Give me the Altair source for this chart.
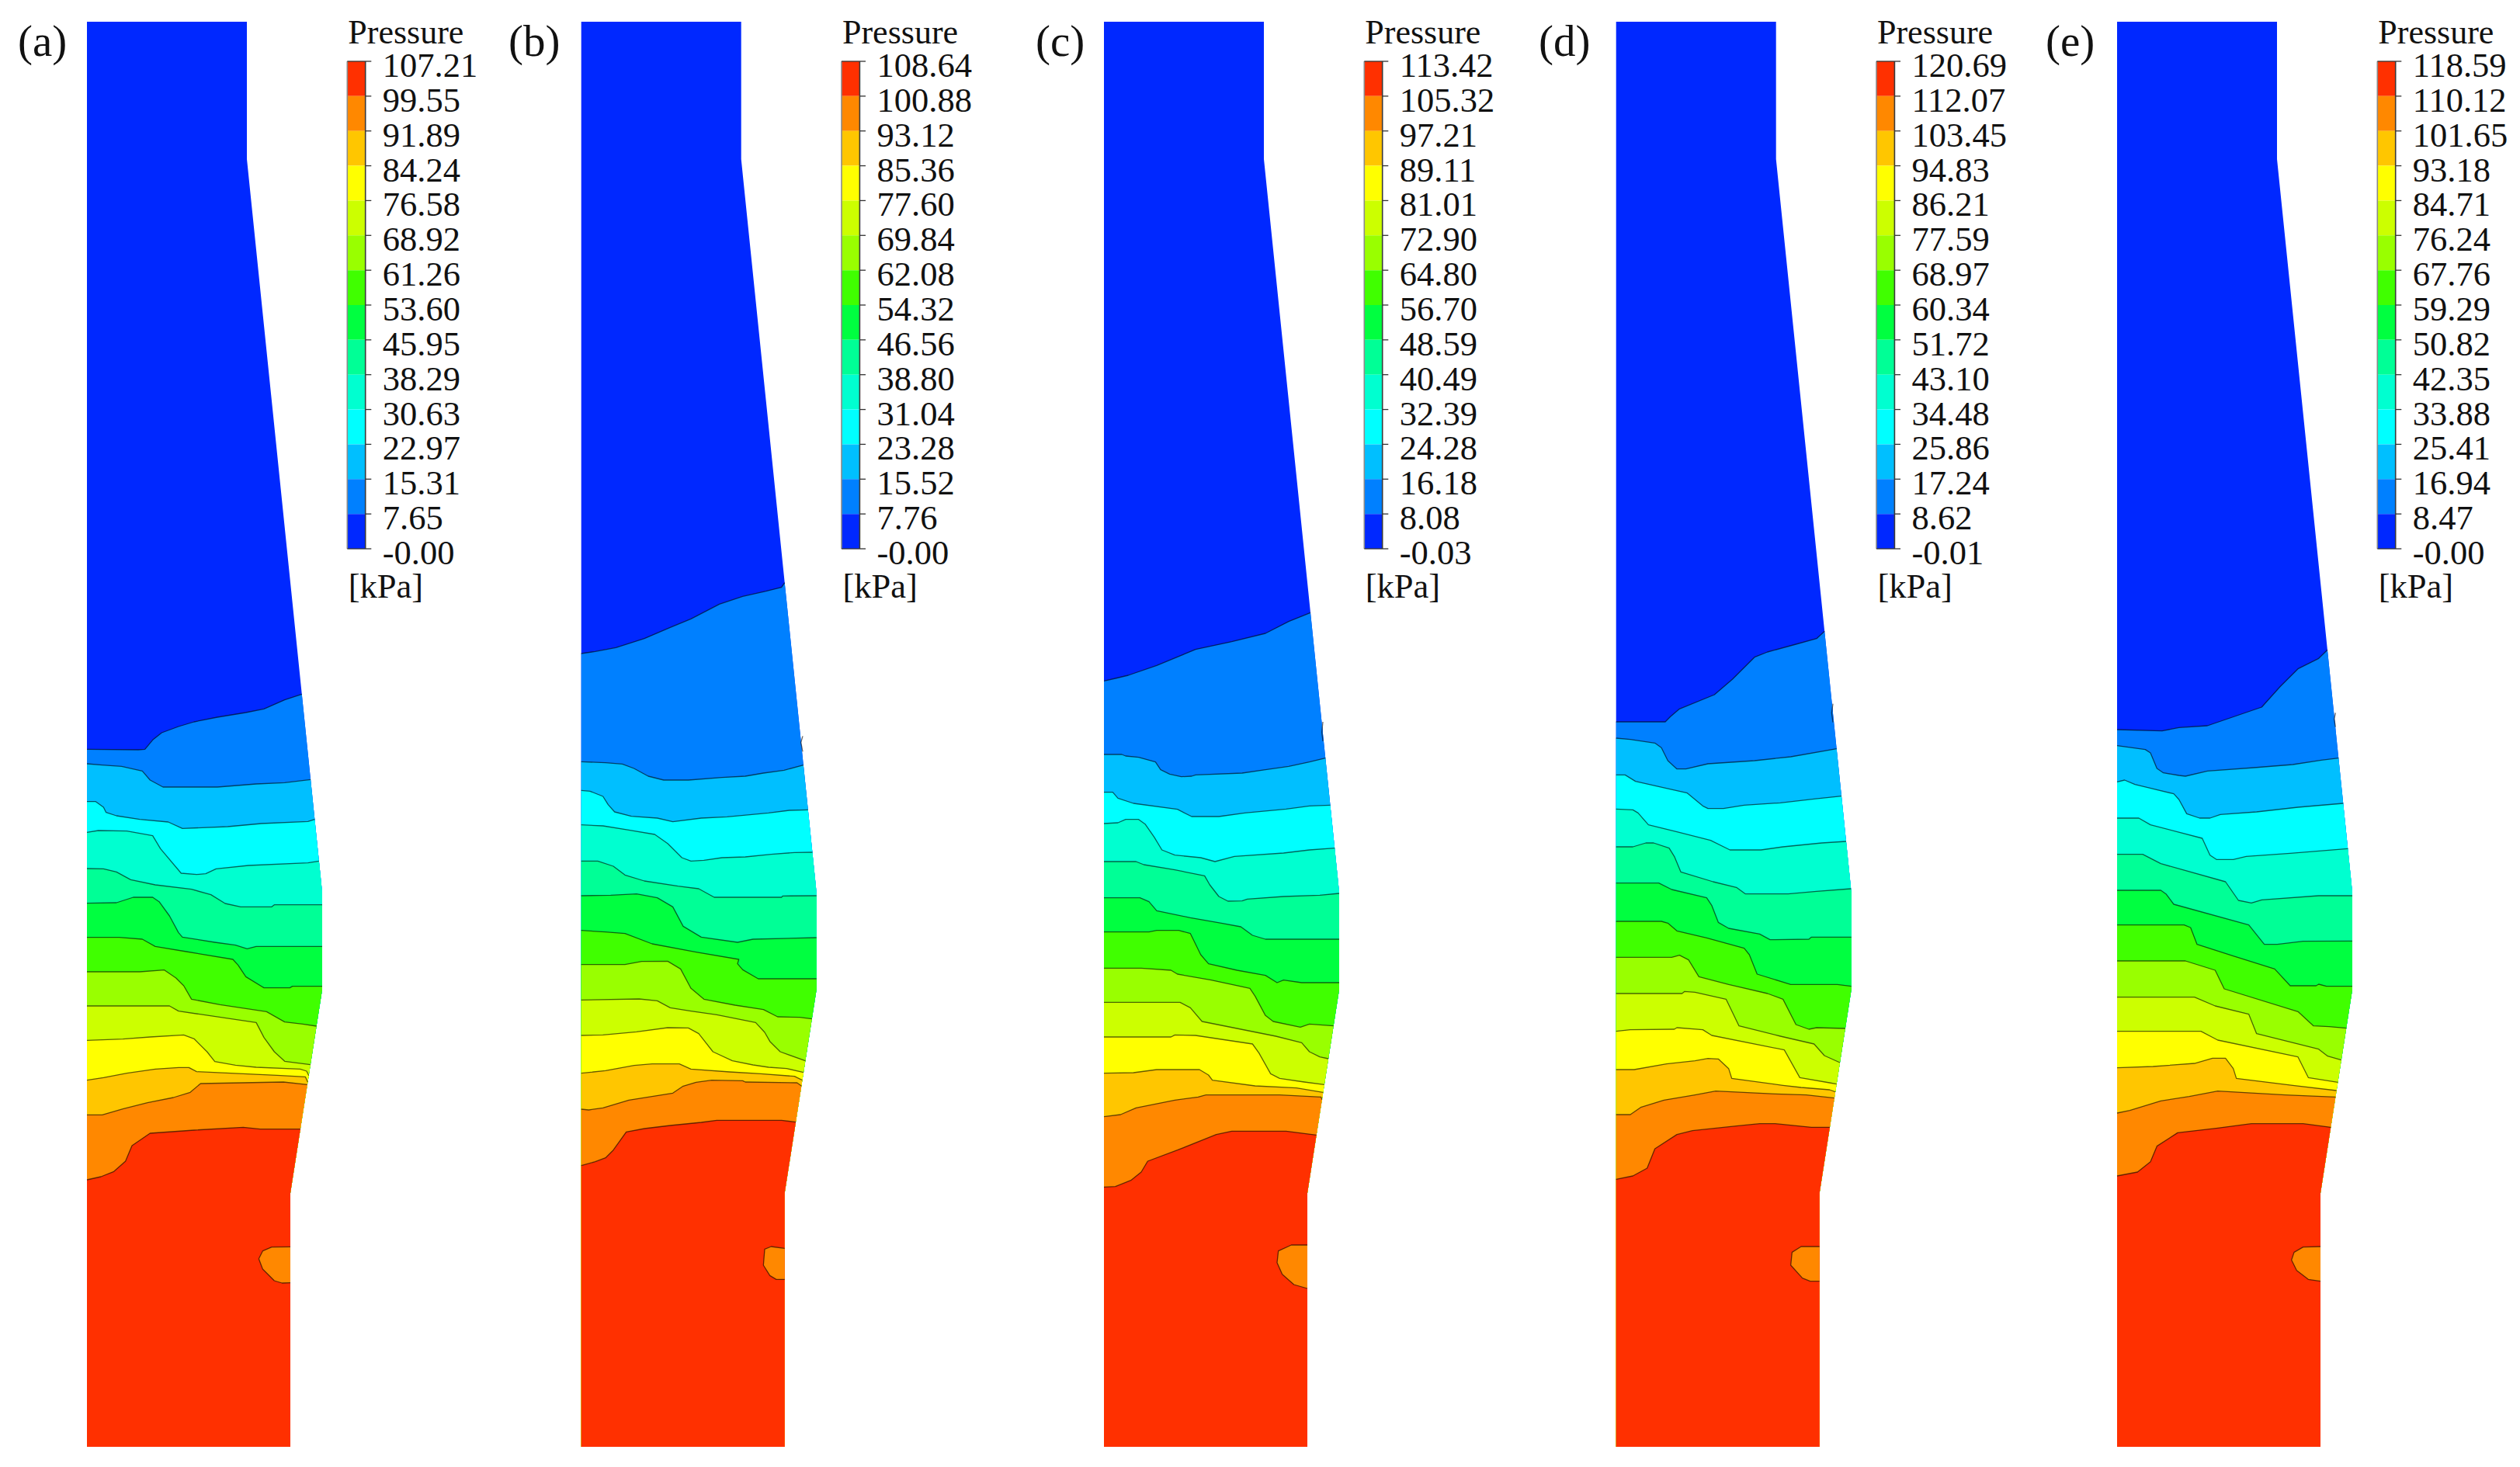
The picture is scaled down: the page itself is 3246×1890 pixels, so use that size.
import altair as alt
import numpy as np
import pandas as pd

W, H = 3230, 1874
BOTTOM = 1864
WALL_DX = [206, 206, 301, 303, 303, 262, 262]
WALL_Y = [28, 205, 1130, 1150, 1275, 1537, 1864]

BAND_COLORS = ["#0028ff", "#0080ff", "#00bfff", "#00ffff", "#00ffd0", "#00ff96", "#00ff40",
               "#40ff00", "#99ff00", "#ccff00", "#ffff00", "#ffc600", "#ff8800", "#ff3000"]

PANEL_NAMES = ["(a)", "(b)", "(c)", "(d)", "(e)"]
NAME_X = [23, 655, 1334, 1982, 2635]
PANEL_LEFT = [112, 748.7, 1422, 2081.7, 2727]

LABELS_A = ["107.21", "99.55", "91.89", "84.24", "76.58", "68.92", "61.26", "53.60", "45.95", "38.29", "30.63", "22.97", "15.31", "7.65", "-0.00"]
LABELS_B = ["108.64", "100.88", "93.12", "85.36", "77.60", "69.84", "62.08", "54.32", "46.56", "38.80", "31.04", "23.28", "15.52", "7.76", "-0.00"]
LABELS_C = ["113.42", "105.32", "97.21", "89.11", "81.01", "72.90", "64.80", "56.70", "48.59", "40.49", "32.39", "24.28", "16.18", "8.08", "-0.03"]
LABELS_D = ["120.69", "112.07", "103.45", "94.83", "86.21", "77.59", "68.97", "60.34", "51.72", "43.10", "34.48", "25.86", "17.24", "8.62", "-0.01"]
LABELS_E = ["118.59", "110.12", "101.65", "93.18", "84.71", "76.24", "67.76", "59.29", "50.82", "42.35", "33.88", "25.41", "16.94", "8.47", "-0.00"]

# contour traces, read in crop units (3 units per picture pixel), with crop origin
A_ORIGINS = [(90, 860), (90, 1240)]
A_UPPER = [
 [(67,316),(265,318),(290,316),(320,280),(355,252),(420,228),(480,210),(570,192),(680,174),(750,160),(830,125),(903,103)],
 [(67,372),(125,377),(200,382),(280,400),(310,435),(360,462),(570,462),(720,450),(830,445),(940,433)],
 [(67,518),(100,518),(130,540),(140,560),(180,573),(270,587),(380,597),(435,622),(610,615),(740,603),(920,595),(955,587)],
 [(67,637),(110,630),(220,632),(320,650),(350,700),(430,795),(490,800),(525,797),(565,778),(690,765),(920,755),(970,748)],
 [(67,777),(130,778),(180,790),(235,820),(330,840),(470,857),(545,878),(600,912),(660,925),(780,925),(790,917),(976,917)],
 [(67,911),(180,909),(245,888),(320,888),(345,905),(385,960),(420,1025),(435,1042),(560,1062),(640,1073),(685,1087),(720,1078),(976,1078)],
 [(67,1043),(190,1043),(280,1050),(330,1078),(450,1098),(630,1128),(650,1150),(680,1195),(750,1238),(850,1238),(860,1232),(976,1232)],
]
A_LOWER = [
 [(67,36),(270,36),(365,29),(410,60),(440,90),(470,142),(580,163),(760,190),(830,230),(900,238),(955,246)],
 [(67,168),(385,168),(420,188),(720,232),(750,290),(790,345),(830,382),(930,395)],
 [(67,301),(205,296),(310,288),(440,280),(480,295),(530,345),(560,383),(640,397),(720,405),(890,412),(915,420),(930,437)],
 [(67,455),(130,445),(220,428),(330,412),(420,406),(460,406),(490,422),(670,430),(800,436),(910,442),(925,462)],
 [(67,589),(125,589),(205,566),(300,542),(400,522),(465,502),(505,468),(825,462),(920,472)],
 [(67,840),(120,828),(170,808),(215,768),(240,708),(310,660),(480,648),(670,637),(735,644),(895,644)],
]
A_ISLAND = [(853,1099),(780,1100),(745,1115),(730,1145),(745,1185),(790,1230),(820,1239),(853,1238)]
A_LENS = []

B_ORIGINS = [(730, 740), (730, 1200)]
B_UPPER = [
 [(56,306),(110,298),(190,283),(300,248),(400,205),(480,172),(590,115),(680,85),(770,65),(830,50),(850,32)],
 [(56,724),(150,728),(215,733),(260,750),(315,780),(375,795),(470,795),(600,785),(690,780),(760,768),(840,757),(917,737)],
 [(56,835),(90,838),(140,858),(160,890),(185,918),(250,935),(350,942),(410,956),(520,942),(620,937),(780,922),(860,912),(935,910)],
 [(56,968),(140,972),(240,988),(340,1005),(390,1040),(445,1095),(480,1108),(530,1105),(600,1095),(690,1092),(790,1082),(880,1075),(955,1074)],
 [(56,1108),(120,1108),(180,1128),(225,1162),(300,1185),(430,1205),(510,1215),(570,1248),(830,1248),(835,1243),(965,1242)],
 [(56,1242),(170,1240),(270,1235),(350,1250),(410,1285),(450,1360),(520,1402),(660,1422),(720,1410),(965,1404)],
]
B_LOWER = [
 [(56,-4),(148,2),(225,8),(330,48),(500,80),(665,108),(660,125),(680,148),(740,183),(965,183)],
 [(56,128),(225,128),(290,116),(390,115),(440,145),(480,220),(530,262),(650,285),(760,302),(815,330),(900,332),(950,338)],
 [(56,265),(280,261),(350,268),(400,295),(480,308),(580,322),(730,352),(765,390),(785,425),(825,465),(920,500)],
 [(56,402),(140,400),(270,388),(390,372),(470,373),(510,395),(565,465),(640,500),(720,516),(780,525),(850,530),(915,545)],
 [(56,548),(150,538),(260,518),(330,512),(435,512),(480,532),(630,543),(750,550),(880,560),(915,575)],
 [(56,687),(85,690),(140,682),(240,652),(410,625),(450,598),(500,583),(560,575),(680,577),(690,582),(890,585),(910,597)],
 [(56,905),(110,890),(150,875),(180,845),(230,775),(300,762),(400,750),(520,738),(580,730),(830,730),(888,737)],
]
B_ISLAND = [(843,1225),(790,1218),(765,1228),(760,1290),(785,1330),(810,1345),(843,1345)]
B_LENS = [(912,625),(905,650),(912,685)]

C_ORIGINS = [(1400, 770), (1400, 1200)]
C_UPPER = [
 [(66,322),(110,312),(160,300),(270,262),(420,200),(560,170),(690,138),(780,92),(868,58)],
 [(66,606),(135,606),(150,612),(200,617),(265,635),(285,665),(320,682),(365,692),(405,690),(420,685),(600,678),(690,665),(780,652),(860,635),(920,620)],
 [(66,752),(100,752),(120,775),(180,795),(350,818),(405,846),(510,846),(610,832),(770,817),(860,805),(938,802)],
 [(66,873),(120,870),(150,857),(200,857),(225,875),(260,925),(290,975),(340,995),(440,1005),(495,1020),(570,1000),(760,987),(860,975),(958,968)],
 [(66,1020),(190,1020),(220,1032),(340,1052),(455,1075),(475,1110),(510,1155),(545,1173),(600,1172),(620,1165),(760,1155),(900,1150),(975,1143)],
 [(66,1160),(205,1160),(240,1175),(270,1210),(400,1237),(520,1258),(595,1272),(640,1305),(690,1320),(975,1320)],
]
C_LOWER = [
 [(66,2),(240,2),(270,-4),(355,-4),(400,8),(440,90),(470,125),(580,150),(690,170),(735,198),(760,188),(830,198),(975,198)],
 [(66,142),(210,142),(325,150),(350,165),(480,188),(630,220),(650,250),(690,325),(720,348),(825,370),(860,358),(948,365)],
 [(66,274),(360,274),(400,295),(445,348),(580,375),(730,405),(830,430),(860,465),(900,485),(932,492)],
 [(66,408),(325,408),(340,400),(420,402),(640,435),(665,470),(710,550),(745,568),(840,582),(915,592)],
 [(66,548),(180,546),(270,534),(435,534),(470,555),(485,575),(650,597),(810,605),(915,622)],
 [(66,716),(130,708),(190,682),(340,652),(430,640),(460,632),(745,632),(905,640),(908,650)],
 [(66,988),(110,986),(170,962),(210,930),(235,888),(350,845),(500,785),(560,772),(770,772),(890,787)],
]
C_ISLAND = [(853,1212),(790,1212),(740,1235),(735,1280),(755,1325),(800,1365),(853,1380)]
C_LENS = [(912,480),(908,520),(912,555)]

D_ORIGINS = [(2060, 800), (2060, 1200)]
D_UPPER = [
 [(65,390),(255,390),(275,370),(310,340),(445,285),(515,225),(600,140),(650,120),(760,90),(840,68),(875,40)],
 [(65,453),(120,458),(215,472),(240,490),(265,540),(300,572),(335,572),(420,552),(600,540),(740,525),(910,494)],
 [(65,595),(100,595),(140,620),(340,665),(400,715),(420,725),(480,725),(560,712),(700,703),(830,688),(932,677)],
 [(65,727),(130,730),(150,742),(190,788),(300,815),(430,848),(505,885),(625,885),(710,873),(860,858),(950,852)],
 [(65,873),(130,873),(180,858),(210,858),(270,878),(290,910),(315,970),(440,1008),(530,1030),(565,1055),(730,1055),(840,1045),(968,1035)],
 [(65,1013),(230,1013),(280,1038),(415,1070),(435,1100),(460,1165),(500,1188),(620,1210),(660,1232),(810,1230),(820,1222),(973,1222)],
]
D_LOWER = [
 [(65,-39),(240,-39),(265,-32),(300,-2),(415,25),(560,65),(580,90),(610,165),(740,205),(760,205),(920,205),(965,212)],
 [(65,100),(280,100),(310,92),(345,110),(385,175),(500,205),(650,240),(710,262),(760,360),(810,378),(840,372),(940,375)],
 [(65,240),(320,240),(330,232),(370,235),(490,262),(540,365),(700,405),(830,435),(870,480),(922,507)],
 [(65,386),(120,380),(290,378),(300,372),(400,380),(435,402),(715,458),(775,565),(890,585),(912,590)],
 [(65,534),(135,534),(260,512),(370,500),(420,491),(460,493),(500,530),(512,568),(710,595),(780,603),(890,612),(910,620)],
 [(65,708),(120,708),(160,680),(250,652),(370,632),(450,617),(680,628),(800,632),(905,644)],
 [(65,958),(130,945),(185,915),(215,840),(300,785),(360,770),(530,752),(620,743),(680,743),(820,757),(888,757)],
]
D_ISLAND = [(853,1218),(780,1218),(745,1240),(740,1290),(785,1340),(815,1352),(853,1352)]
D_LENS = [(903,320),(898,355),(903,392)]

E_ORIGINS = [(2710, 800), (2710, 1200)]
E_UPPER = [
 [(51,420),(225,425),(290,412),(400,405),(610,333),(680,255),(750,185),(830,145),(873,112)],
 [(51,482),(160,497),(180,510),(205,570),(230,587),(290,597),(315,600),(400,580),(580,567),(730,555),(840,538),(908,530)],
 [(51,622),(80,615),(120,632),(270,668),(290,690),(320,745),(370,762),(410,762),(450,748),(590,738),(750,720),(925,705)],
 [(51,762),(135,762),(180,788),(380,840),(410,905),(435,922),(500,922),(550,910),(720,898),(940,880)],
 [(51,902),(150,902),(220,938),(470,1008),(520,1080),(570,1090),(610,1078),(830,1062),(960,1062)],
 [(51,1041),(220,1041),(240,1055),(270,1095),(560,1175),(620,1250),(670,1250),(770,1238),(960,1237)],
]
E_LOWER = [
 [(51,-25),(310,-25),(335,-15),(360,50),(500,95),(660,145),(720,210),(820,210),(830,204),(860,212),(960,212)],
 [(51,114),(315,114),(430,150),(465,222),(750,310),(810,365),(870,368),(935,374)],
 [(51,254),(350,254),(430,288),(560,320),(590,395),(830,455),(865,482),(915,497)],
 [(51,386),(375,386),(440,420),(750,485),(790,565),(905,583)],
 [(51,527),(190,522),(350,510),(420,490),(470,490),(500,530),(512,568),(730,595),(895,615)],
 [(51,702),(100,692),(220,655),(330,638),(440,617),(530,622),(700,632),(893,640)],
 [(51,945),(130,930),(180,890),(205,830),(285,778),(440,760),(570,743),(770,743),(875,757)],
]
E_ISLAND = [(838,1218),(770,1220),(735,1240),(725,1270),(745,1310),(790,1345),(838,1352)]
E_LENS = [(895,355),(890,380),(895,410)]

PANELS = [
    (A_ORIGINS, A_UPPER, A_LOWER, A_ISLAND, A_LENS, LABELS_A),
    (B_ORIGINS, B_UPPER, B_LOWER, B_ISLAND, B_LENS, LABELS_B),
    (C_ORIGINS, C_UPPER, C_LOWER, C_ISLAND, C_LENS, LABELS_C),
    (D_ORIGINS, D_UPPER, D_LOWER, D_ISLAND, D_LENS, LABELS_D),
    (E_ORIGINS, E_UPPER, E_LOWER, E_ISLAND, E_LENS, LABELS_E),
]

BAR_DX0, BAR_DX1, TICK_DX = 335.3, 358.7, 366.3
BAR_TOP, BAR_BOTTOM = 79.0, 707.0
FONT = "Liberation Serif"


def wall_x(left, y):
    return left + float(np.interp(y, WALL_Y, WALL_DX))


def to_px(trace, origin):
    return [[origin[0] + cx / 3, origin[1] + cy / 3] for cx, cy in trace]


features, lines, rects, rules, texts = [], [], [], [], []

for p, (origins, upper, lower, island, lens, labels) in enumerate(PANELS):
    left = PANEL_LEFT[p]

    # whole channel first, then each lower band painted over it
    outline = [[left, 28]] + [[left + d, y] for d, y in zip(WALL_DX, WALL_Y)] + [[left, BOTTOM], [left, 28]]
    features.append({"type": "Feature", "properties": {"color": BAND_COLORS[0]},
                     "geometry": {"type": "Polygon", "coordinates": [outline]}})

    traces = [to_px(t, origins[0]) for t in upper] + [to_px(t, origins[1]) for t in lower]
    for k, pts in enumerate(traces):
        pts[0][0] = left
        pts[-1][0] = wall_x(left, pts[-1][1])
        end_y = pts[-1][1]
        ring = pts + [[left + d, y] for d, y in zip(WALL_DX, WALL_Y) if y > end_y] + [[left, BOTTOM], pts[0]]
        features.append({"type": "Feature", "properties": {"color": BAND_COLORS[k + 1]},
                         "geometry": {"type": "Polygon", "coordinates": [ring]}})
        for i, (x, y) in enumerate(pts):
            lines.append({"id": f"{p}-{k}", "i": i, "x": x, "y": y})

    isl = to_px(island, origins[1])
    isl[0][0] = wall_x(left, isl[0][1])
    isl[-1][0] = wall_x(left, isl[-1][1])
    features.append({"type": "Feature", "properties": {"color": BAND_COLORS[12]},
                     "geometry": {"type": "Polygon", "coordinates": [isl + [isl[0]]]}})
    for i, (x, y) in enumerate(isl):
        lines.append({"id": f"{p}-island", "i": i, "x": x, "y": y})
    for i, (x, y) in enumerate(to_px(lens, origins[0])):
        lines.append({"id": f"{p}-lens", "i": i, "x": x, "y": y})

    # colour bar
    x0, x1, xt = left + BAR_DX0, left + BAR_DX1, left + TICK_DX
    step = (BAR_BOTTOM - BAR_TOP) / 14
    for b in range(14):
        rects.append({"x": x0, "x2": x1, "y": BAR_TOP + b * step, "y2": BAR_TOP + (b + 1) * step,
                      "color": BAND_COLORS[13 - b]})
    for t, lab in enumerate(labels):
        yt = BAR_TOP + t * step
        rules.append({"x": x0 if t in (0, 14) else x1, "x2": xt, "y": yt})
        texts.append({"x": x0 + 45.5, "y": yt + 20, "t": lab, "s": 44.5})
    texts.append({"x": x0 + 1, "y": 56, "t": "Pressure", "s": 44})
    texts.append({"x": x0 + 1.5, "y": 770, "t": "[kPa]", "s": 44.5})
    texts.append({"x": NAME_X[p], "y": 72, "t": PANEL_NAMES[p], "s": 57})

sides = []
for left in PANEL_LEFT:
    sides.append({"x": left + BAR_DX0, "y": BAR_TOP, "y2": BAR_BOTTOM, "c": "#8a8a8a"})
    sides.append({"x": left + BAR_DX1, "y": BAR_TOP, "y2": BAR_BOTTOM, "c": "#3a3a3a"})

xs = alt.Scale(domain=[8, 8 + W], range=[0, W], nice=False, zero=False)
ys = alt.Scale(domain=[8, 8 + H], range=[0, H], nice=False, zero=False)
X = alt.X("x:Q", scale=xs, axis=None)
Y = alt.Y("y:Q", scale=ys, axis=None)

fields = alt.Chart(alt.Data(values=features)).mark_geoshape().encode(
    color=alt.Color("properties.color:N", scale=None)
).project(type="identity", scale=1, translate=[-8, -8])

contours = alt.Chart(pd.DataFrame(lines)).mark_line(
    color="#000000", strokeWidth=1.3, opacity=0.6, strokeJoin="round"
).encode(x=X, y=Y, detail="id:N", order="i:Q")

bar = alt.Chart(pd.DataFrame(rects)).mark_rect().encode(
    x=X, x2="x2:Q", y=Y, y2="y2:Q", color=alt.Color("color:N", scale=None)
)
bar_sides = alt.Chart(pd.DataFrame(sides)).mark_rule(strokeWidth=1.6).encode(
    x=X, y=Y, y2="y2:Q", color=alt.Color("c:N", scale=None)
)
ticks = alt.Chart(pd.DataFrame(rules)).mark_rule(color="#333333", strokeWidth=1.3).encode(
    x=X, x2="x2:Q", y=Y
)
words = alt.Chart(pd.DataFrame(texts)).mark_text(
    align="left", baseline="alphabetic", font=FONT, color="#111111"
).encode(x=X, y=Y, text="t:N", size=alt.Size("s:Q", scale=None))

chart = alt.layer(fields, contours, bar, bar_sides, ticks, words).properties(
    width=W, height=H, padding=0, autosize=alt.AutoSizeParams(type="none"), background="#ffffff"
).configure_view(stroke=None)

chart.save("out.html", embed_options={"renderer": "svg", "actions": False})
